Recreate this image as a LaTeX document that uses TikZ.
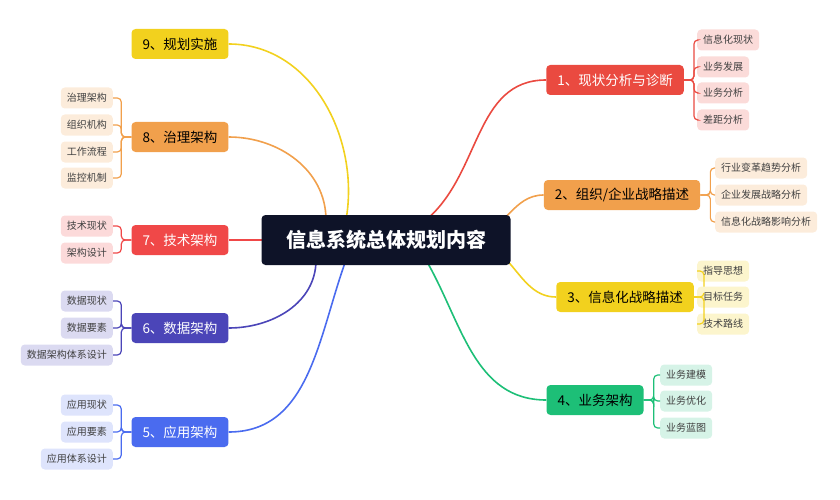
\documentclass[tikz,border=0pt]{standalone}
\usepackage{fontspec}
\setmainfont{Noto Sans CJK SC}
\usetikzlibrary{positioning,backgrounds}
\definecolor{cRed}{HTML}{EA4A40}
\definecolor{cOra}{HTML}{F1A04C}
\definecolor{cYel}{HTML}{F2D11E}
\definecolor{cGre}{HTML}{1DBF77}
\definecolor{cBlu}{HTML}{4A6BEF}
\definecolor{cInd}{HTML}{4B45B8}
\definecolor{cRed2}{HTML}{F04848}
\definecolor{cNavy}{HTML}{0E1328}
\tikzset{
x=1pt, y=-1pt,
root/.style={fill=cNavy, text=white, rounded corners=4pt, minimum width=249pt, minimum height=50pt, font=\fontsize{20}{22}\selectfont\bfseries}, % centre
branch/.style={fill=#1, rounded corners=4pt, minimum height=30pt, inner xsep=11pt, font=\fontsize{13.5}{15}\selectfont}, % main topics
leaf/.style={fill=#1, rounded corners=4pt, minimum height=21pt, inner xsep=6pt, text=black!75, font=\fontsize{10}{12}\selectfont}, % sub topics
link/.style={draw=#1, line width=1.6pt},
brace/.style={draw=#1, line width=1.2pt, rounded corners=4pt},
}
\begin{document}
\begin{tikzpicture}
\useasboundingbox (0,0) rectangle (840,500);
\node[root] (C) at (386,240) {信息系统总体规划内容};
% right side
\node[branch=cRed, text=white] (b1) at (615,80) {1、现状分析与诊断};
\node[branch=cOra] (b2) at (622,195) {2、组织/企业战略描述};
\node[branch=cYel] (b3) at (625,297) {3、信息化战略描述};
\node[branch=cGre] (b4) at (595,400) {4、业务架构};
% left side
\node[branch=cBlu, text=white] (b5) at (180,432) {5、应用架构};
\node[branch=cInd, text=white] (b6) at (180,328) {6、数据架构};
\node[branch=cRed2, text=white] (b7) at (180,240) {7、技术架构};
\node[branch=cOra] (b8) at (180,137) {8、治理架构};
\node[branch=cYel] (b9) at (180,44) {9、规划实施};
\begin{scope}[on background layer]
\draw[link=cRed] (C.center) ++(40,-20) to[out=40,in=180] (b1.west);
\draw[link=cOra] (C.center) ++(90,-5) to[out=10,in=180] (b2.west);
\draw[link=cYel] (C.center) ++(90,5) to[out=0,in=180] (b3.west);
\draw[link=cGre] (C.center) ++(40,20) to[out=-60,in=180] (b4.west);
\draw[link=cBlu] (C.center) ++(-40,20) to[out=-110,in=0] (b5.east);
\draw[link=cInd] (C.center) ++(-70,20) to[out=-90,in=0] (b6.east);
\draw[link=cRed2] (C.center) -- (b7.east);
\draw[link=cOra] (C.center) ++(-60,-20) to[out=90,in=0] (b8.east);
\draw[link=cYel] (C.center) ++(-40,-20) to[out=80,in=0] (b9.east);
\end{scope}
% leaves
\foreach \t/\y [count=\i] in {信息化现状/40, 业务发展/67, 业务分析/93, 差距分析/120}
  {\node[leaf=cRed!20, anchor=west] (l1\i) at (697,\y) {\t};
   \draw[brace=cRed] (b1.east) -- ++(10,0) |- (l1\i.west);}
\foreach \t/\y [count=\i] in {行业变革趋势分析/168, 企业发展战略分析/195, 信息化战略影响分析/222}
  {\node[leaf=cOra!20, anchor=west] (l2\i) at (715,\y) {\t};
   \draw[brace=cOra] (b2.east) -- ++(10,0) |- (l2\i.west);}
\foreach \t/\y [count=\i] in {指导思想/271, 目标任务/297, 技术路线/324}
  {\node[leaf=cYel!22, anchor=west] (l3\i) at (697,\y) {\t};
   \draw[brace=cYel] (b3.east) -- ++(10,0) |- (l3\i.west);}
\foreach \t/\y [count=\i] in {业务建模/375, 业务优化/401, 业务蓝图/428}
  {\node[leaf=cGre!18, anchor=west] (l4\i) at (660,\y) {\t};
   \draw[brace=cGre] (b4.east) -- ++(10,0) |- (l4\i.west);}
\foreach \t/\y [count=\i] in {应用现状/405, 应用要素/432, 应用体系设计/459}
  {\node[leaf=cBlu!18, anchor=east] (l5\i) at (113,\y) {\t};
   \draw[brace=cBlu] (b5.west) -- ++(-10,0) |- (l5\i.east);}
\foreach \t/\y [count=\i] in {数据现状/301, 数据要素/328, 数据架构体系设计/355}
  {\node[leaf=cInd!20, anchor=east] (l6\i) at (113,\y) {\t};
   \draw[brace=cInd] (b6.west) -- ++(-10,0) |- (l6\i.east);}
\foreach \t/\y [count=\i] in {技术现状/226, 架构设计/253}
  {\node[leaf=cRed2!20, anchor=east] (l7\i) at (113,\y) {\t};
   \draw[brace=cRed2] (b7.west) -- ++(-10,0) |- (l7\i.east);}
\foreach \t/\y [count=\i] in {治理架构/98, 组织机构/125, 工作流程/152, 监控机制/178}
  {\node[leaf=cOra!20, anchor=east] (l8\i) at (113,\y) {\t};
   \draw[brace=cOra] (b8.west) -- ++(-10,0) |- (l8\i.east);}
\end{tikzpicture}
\end{document}
